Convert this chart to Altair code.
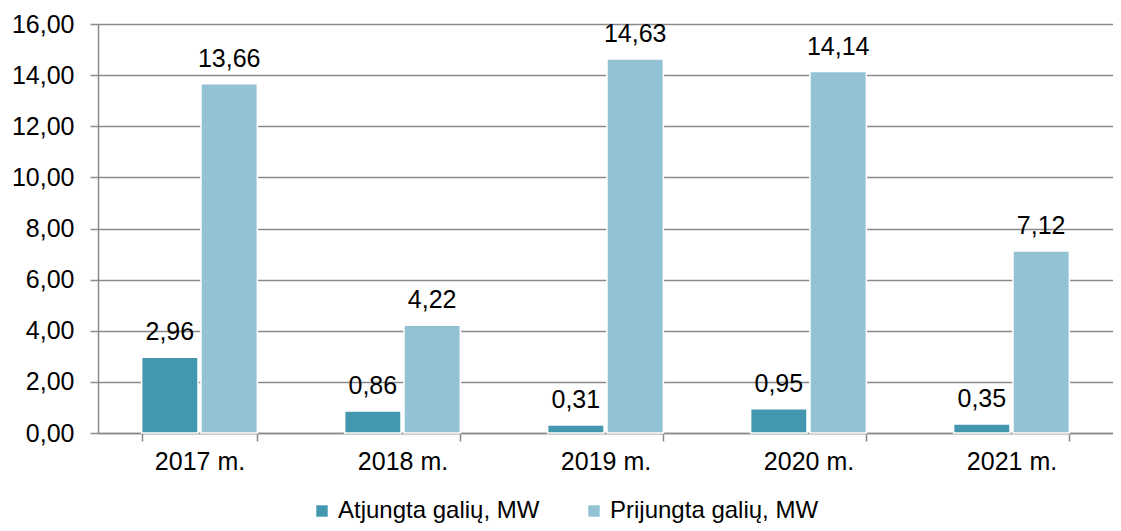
import altair as alt
import pandas as pd

years = ["2017 m.", "2018 m.", "2019 m.", "2020 m.", "2021 m."]
series_names = ["Atjungta galių, MW", "Prijungta galių, MW"]
atjungta = [2.96, 0.86, 0.31, 0.95, 0.35]
prijungta = [13.66, 4.22, 14.63, 14.14, 7.12]
colors = ["#4397AF", "#93C2D4"]

rows = []
for i, y in enumerate(years):
    rows.append({"year": y, "series": series_names[0], "value": atjungta[i]})
    rows.append({"year": y, "series": series_names[1], "value": prijungta[i]})
df = pd.DataFrame(rows)

FONT = "Liberation Sans"
FS = 25

base = alt.Chart(df).encode(
    x=alt.X("year:N", sort=years, title=None,
            scale=alt.Scale(paddingInner=0.43, paddingOuter=0.215),
            axis=alt.Axis(labelAngle=0, labelFontSize=FS, labelFont=FONT, labelColor="#000",
                          domainColor="#8a8a8a", domainWidth=1.5, tickColor="#8a8a8a",
                          tickWidth=1.5, tickSize=8, tickBand="extent", labelPadding=8,
                          grid=False)),
    xOffset=alt.XOffset("series:N", sort=series_names,
                        scale=alt.Scale(paddingInner=0.05)),
)

bars = base.mark_bar(stroke="white", strokeWidth=1.5).encode(
    y=alt.Y("value:Q", title=None, scale=alt.Scale(domain=[0, 16], nice=False),
            axis=alt.Axis(values=[0, 2, 4, 6, 8, 10, 12, 14, 16],
                          labelExpr="replace(format(datum.value, '.2f'), '.', ',')",
                          labelFontSize=FS, labelFont=FONT, labelColor="#000",
                          gridColor="#8a8a8a", gridWidth=1.5, domainColor="#8a8a8a",
                          domainWidth=1.5, tickColor="#8a8a8a", tickWidth=1.5, tickSize=8,
                          labelPadding=16)),
    color=alt.Color("series:N", sort=series_names,
                    scale=alt.Scale(domain=series_names, range=colors),
                    legend=alt.Legend(title=None, orient="none", direction="horizontal",
                                      legendX=212, legendY=475,
                                      labelFontSize=24, labelFont=FONT, labelColor="#000",
                                      labelLimit=0,
                                      symbolType="square", symbolSize=130,
                                      symbolStrokeWidth=0, labelOffset=4,
                                      columnPadding=42)),
)

labels = base.transform_calculate(
    lbl="replace(format(datum.value, '.2f'), '.', ',')"
).mark_text(baseline="alphabetic", dy=-17, fontSize=FS, font=FONT, color="#000").encode(
    y=alt.Y("value:Q"),
    text="lbl:N",
)

chart = alt.layer(bars, labels).properties(
    width=1015,
    height=409,
    autosize=alt.AutoSizeParams(type="none"),
    padding={"left": 90, "top": 16, "right": 0, "bottom": 90},
).configure_view(stroke=None).configure(font=FONT)

chart.save("out.html", embed_options={"renderer": "svg", "actions": False})
